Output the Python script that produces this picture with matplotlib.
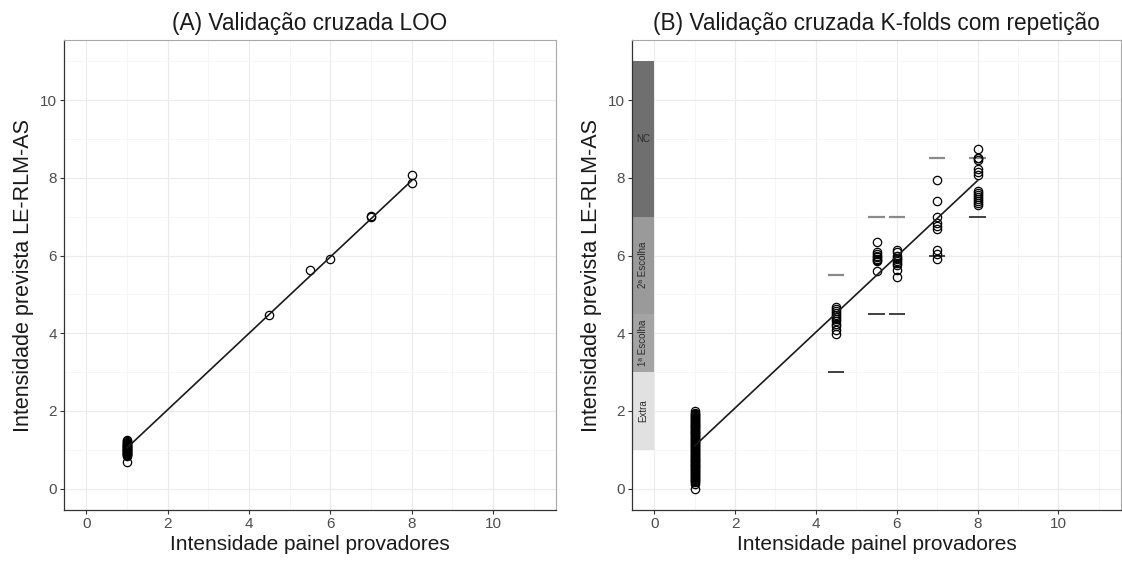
import matplotlib
matplotlib.use("Agg")
import matplotlib.pyplot as plt
import numpy as np

plt.rcParams['font.family'] = ['Liberation Sans', 'DejaVu Sans']

# ---------------- data ----------------
# (A) LOO
loo_x1_vals = [0.68, 0.84, 0.86, 0.88, 0.90, 0.91, 0.93, 0.94, 0.96, 0.97, 0.99,
               1.00, 1.02, 1.03, 1.05, 1.06, 1.08, 1.09, 1.11, 1.12, 1.14, 1.16,
               1.18, 1.20, 1.22, 1.25]
loo_other_x = [4.5, 5.5, 6.0, 7.0, 7.0, 8.0, 8.0]
loo_other_y = [4.47, 5.62, 5.92, 7.00, 7.02, 8.08, 7.86]
loo_line_x = [1.0, 8.0]
loo_line_y = [1.05, 7.93]

# (B) K-folds with repetition
kf_x = [1.0, 4.5, 5.5, 6.0, 7.0, 8.0]
kf_y = [
    [-0.02, 0.12, 0.16, 0.19, 0.22, 0.25, 0.27, 0.30, 0.32, 0.35, 0.37, 0.40, 0.42,
     0.45, 0.47, 0.50, 0.52, 0.55, 0.57, 0.60, 0.62, 0.65, 0.67, 0.70, 0.72, 0.75,
     0.77, 0.80, 0.82, 0.85, 0.87, 0.90, 0.92, 0.95, 0.97, 1.00, 1.02, 1.05, 1.07,
     1.10, 1.12, 1.15, 1.17, 1.20, 1.22, 1.25, 1.27, 1.30, 1.32, 1.35, 1.37, 1.40,
     1.42, 1.45, 1.47, 1.50, 1.52, 1.55, 1.57, 1.60, 1.62, 1.65, 1.67, 1.70, 1.72,
     1.75, 1.77, 1.80, 1.82, 1.85, 1.87, 1.90, 1.93, 1.96, 2.00],
    [3.98, 4.08, 4.18, 4.25, 4.32, 4.38, 4.42, 4.47, 4.52, 4.57, 4.62, 4.68],
    [5.60, 5.85, 5.88, 5.92, 5.96, 6.00, 6.04, 6.10, 6.35],
    [5.45, 5.62, 5.75, 5.80, 5.85, 5.90, 5.95, 6.00, 6.10, 6.15],
    [5.90, 6.05, 6.15, 6.68, 6.75, 6.85, 7.00, 7.40, 7.95],
    [7.30, 7.35, 7.40, 7.45, 7.50, 7.55, 7.60, 7.65, 8.08, 8.15, 8.22, 8.45, 8.50,
     8.52, 8.75],
]
kf_line_x = [1.0, 8.0]
kf_line_y = [1.10, 7.93]
# panel limits shown as short dashes
dash_x = [4.5, 5.5, 6.0, 7.0, 8.0]
dash_upper = [5.5, 7.0, 7.0, 8.5, 8.5]
dash_lower = [3.0, 4.5, 4.5, 6.0, 7.0]
# quality grades (y ranges)
grade_labels = ['Extra', '1ª Escolha', '2ª Escolha', 'NC']
grade_low = [1.0, 3.0, 4.5, 7.0]
grade_high = [3.0, 4.5, 7.0, 11.0]
grade_colors = ['#e1e1e1', '#a4a4a4', '#9a9a9a', '#6f6f6f']
grade_rot = [90, 90, 90, 0]

ticks = [0, 2, 4, 6, 8, 10]
xlabel = 'Intensidade painel provadores'
ylabel = 'Intensidade prevista LE-RLM-AS'
titles = ['(A) Validação cruzada LOO', '(B) Validação cruzada K-folds com repetição']

# ---------------- figure ----------------
fig = plt.figure(figsize=(11.22, 5.63), dpi=100)
axA = fig.add_axes([64/1122, 1-510/563, (556-64)/1122, (510-40)/563])
axB = fig.add_axes([632/1122, 1-510/563, (1121-632)/1122, (510-40)/563])

def style(ax, title):
    ax.set_xlim(-0.55, 11.55)
    ax.set_ylim(-0.55, 11.55)
    ax.set_xticks(ticks)
    ax.set_yticks(ticks)
    ax.set_xticks([1, 3, 5, 7, 9, 11], minor=True)
    ax.set_yticks([1, 3, 5, 7, 9, 11], minor=True)
    ax.grid(True, which='major', color='#ebebeb', lw=0.8, zorder=0)
    ax.grid(True, which='minor', color='#f5f5f5', lw=0.6, zorder=0)
    ax.set_axisbelow(True)
    ax.tick_params(which='minor', length=0)
    ax.tick_params(which='major', length=3, width=0.8, color='#333333',
                   labelsize=11, labelcolor='#4d4d4d', pad=2)
    for s in ['top', 'right']:
        ax.spines[s].set_color('#a8a8a8')
        ax.spines[s].set_linewidth(0.8)
    for s in ['left', 'bottom']:
        ax.spines[s].set_color('#333333')
        ax.spines[s].set_linewidth(0.9)
    ax.set_xlabel(xlabel, fontsize=15, color='#1a1a1a', labelpad=3)
    ax.set_ylabel(ylabel, fontsize=15.5, color='#1a1a1a', labelpad=4)
    ax.set_title(title, fontsize=16.3, color='#1a1a1a', pad=7)

mk = dict(marker='o', ms=6, mfc='none', mec='black', mew=0.9, ls='none', zorder=3)

# (A)
style(axA, titles[0])
axA.plot([1.0]*len(loo_x1_vals), loo_x1_vals, **mk)
axA.plot(loo_other_x, loo_other_y, **mk)
axA.plot(loo_line_x, loo_line_y, color='#1a1a1a', lw=1.2, zorder=4)

# (B)
style(axB, titles[1])
for lo, hi, c, lab, rot in zip(grade_low, grade_high, grade_colors, grade_labels, grade_rot):
    axB.add_patch(plt.Rectangle((-0.55, lo), 0.55, hi - lo, facecolor=c,
                                edgecolor='none', zorder=1))
    axB.text(-0.27, (lo + hi) / 2, lab, rotation=rot, ha='center', va='center',
             fontsize=7, color='#2a2a2a', zorder=2)
for xv, ys in zip(kf_x, kf_y):
    axB.plot([xv]*len(ys), ys, **mk)
axB.plot(kf_line_x, kf_line_y, color='#1a1a1a', lw=1.2, zorder=4)
hw = 0.2
axB.hlines(dash_upper, np.array(dash_x) - hw, np.array(dash_x) + hw,
           colors='#8a8a8a', lw=1.6, zorder=2)
axB.hlines(dash_lower, np.array(dash_x) - hw, np.array(dash_x) + hw,
           colors='#333333', lw=1.3, zorder=2)

fig.savefig('out.png', dpi=100, facecolor='white')
